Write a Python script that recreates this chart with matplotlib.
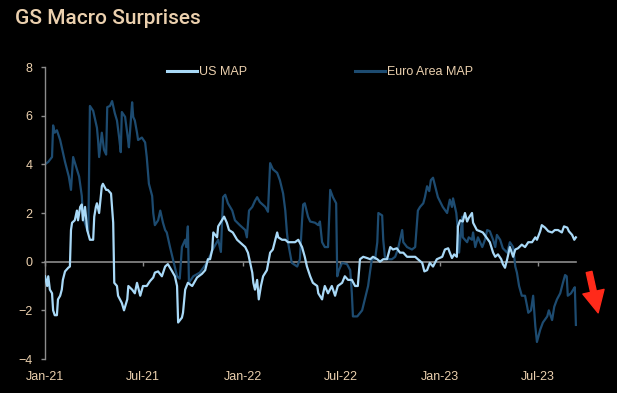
import numpy as np
import pandas as pd
import matplotlib
matplotlib.use("Agg")
import matplotlib.pyplot as plt
import matplotlib.dates as mdates

start_date = "2021-01-01"

euro_days = [0, 6, 13, 15, 18, 22, 28, 37, 44, 48, 52, 59, 63, 68, 70, 78, 80, 83, 89, 96,
             98, 100, 105, 109, 113, 115, 120, 124, 129, 133, 137, 140, 142, 148, 153, 155, 161, 163, 166, 170,
             172, 179, 185, 188, 192, 198, 200, 203, 209, 213, 218, 222, 225, 231, 237, 244, 249, 253, 259, 261,
             264, 266, 274, 286, 299, 310, 320, 325, 329, 333, 338, 346, 351, 360, 370, 373, 377, 383, 388, 392,
             397, 407, 412, 416, 421, 429, 434, 440, 444, 447, 449, 456, 466, 471, 475, 477, 480, 486, 490, 499,
             505, 508, 512, 517, 523, 527, 532, 538, 540, 543, 549, 558, 564, 567, 569, 577, 586, 591, 597, 601,
             604, 610, 614, 616, 623, 625, 628, 634, 641, 647, 652, 660, 662, 669, 678, 684, 689, 693, 699, 702,
             706, 710, 713, 717, 721, 726, 735, 743, 748, 752, 754, 760, 764, 765, 771, 772, 780, 783, 789, 791,
             795, 800, 808, 813, 817, 822, 828, 832, 835, 841, 846, 854, 859, 865, 869, 872, 876, 881, 887, 891,
             893, 898, 902, 906, 909, 915, 920, 928, 931, 937, 941, 946, 952, 957, 961, 964, 966, 972, 976, 979,
             981]
euro_vals = [4.0, 4.1, 4.3, 5.6, 5.3, 5.4, 5.0, 4.1, 3.5, 2.95, 4.3, 3.8, 3.5, 2.7, 1.85, 1.3, 1.2, 6.4, 6.2, 5.5,
             5.0, 4.3, 5.3, 4.6, 4.4, 6.35, 6.4, 6.6, 6.1, 5.8, 5.1, 4.5, 6.15, 5.95, 5.1, 4.7, 6.55, 5.95, 5.8, 5.3,
             5.0, 5.1, 4.9, 4.3, 3.2, 2.7, 2.0, 1.5, 1.7, 2.1, 1.6, 1.3, 1.2, 0.6, 0.05, -0.6, -0.7, 0.6, 0.9, 0.6,
             1.45, -0.87, -0.6, -0.45, -0.05, 0.5, 0.9, 0.4, 2.65, 2.75, 2.4, 2.1, 1.7, 1.5, 1.3, 1.0, 2.1, 2.25, 2.5, 2.65,
             2.45, 2.25, 2.05, 4.05, 3.8, 3.65, 3.35, 2.8, 2.1, 1.2, 0.8, -0.05, -0.2, 0.1, 1.7, 2.35, 2.4, 1.85, 1.65, 1.6,
             1.5, 1.65, 0.8, 0.6, 0.6, 2.95, 2.65, 2.4, -0.6, -0.35, -0.05, -0.1, -0.35, -1.3, -2.25, -2.25, -2.0, -1.55, -1.0, -0.35,
             0.1, 0.1, 0.8, 2.0, 1.9, 0.9, 0.2, 0.1, 0.1, 0.2, 0.5, 1.3, 0.8, 0.6, 0.5, 0.6, 2.1, 2.25, 2.4, 2.65,
             3.1, 2.9, 3.35, 3.45, 3.1, 2.65, 2.25, 2.0, 2.55, 2.25, 2.6, 2.0, 1.0, 0.37, 1.85, 1.0, 0.8, 1.0, 0.9, 1.2,
             0.6, 1.0, 0.6, 0.9, 1.3, 1.25, 0.9, 0.6, 1.1, 0.9, 0.55, 0.37, 0.8, 0.6, -0.2, -0.45, -1.0, -1.4, -1.4, -1.85,
             -2.1, -2.0, -1.4, -2.65, -3.3, -2.8, -2.5, -2.25, -2.0, -2.4, -1.85, -1.55, -1.3, -0.87, -0.55, -0.6, -1.4, -1.3, -1.15, -1.05,
             -2.6]

us_days = [0, 4, 6, 9, 13, 15, 18, 22, 24, 28, 31, 33, 37, 43, 46, 48, 50, 55, 59, 61,
           65, 68, 70, 74, 78, 83, 89, 91, 94, 96, 100, 105, 107, 113, 116, 122, 126, 128, 133, 135,
           142, 146, 152, 154, 161, 166, 170, 176, 181, 188, 194, 200, 203, 209, 216, 222, 227, 235, 240, 244,
           246, 253, 255, 259, 264, 272, 281, 290, 296, 301, 305, 309, 311, 318, 320, 327, 331, 336, 340, 347,
           355, 360, 370, 375, 383, 385, 388, 392, 395, 399, 403, 410, 416, 421, 429, 431, 438, 444, 449, 456,
           462, 468, 475, 480, 484, 490, 495, 503, 505, 512, 514, 517, 523, 530, 536, 541, 549, 554, 560, 567,
           573, 578, 582, 588, 595, 601, 606, 614, 619, 625, 632, 638, 643, 650, 656, 662, 669, 678, 684, 689,
           697, 701, 706, 711, 717, 724, 734, 739, 745, 748, 752, 756, 761, 763, 767, 772, 776, 780, 783, 789,
           791, 798, 804, 809, 817, 822, 828, 832, 837, 843, 846, 850, 854, 859, 865, 869, 874, 881, 887, 893,
           900, 906, 909, 915, 918, 924, 930, 937, 942, 948, 955, 959, 965, 968, 974, 978, 981]
us_vals = [-0.6, -1.0, -0.6, -1.15, -1.3, -2.0, -2.2, -2.2, -1.55, -1.4, -1.15, -0.75, -0.4, -0.25, -0.2, 1.3, 1.6, 1.7, 2.1, 1.7,
           2.25, 2.35, 1.7, 2.25, 1.3, 0.9, 0.9, 1.85, 2.25, 2.4, 2.0, 3.1, 3.2, 2.95, 2.95, 2.8, 1.6, -0.87, -1.0, -1.4,
           -1.7, -2.0, -1.55, -1.0, -1.15, -1.3, -0.87, -1.4, -1.0, -1.0, -0.8, -0.65, -0.45, -0.4, -0.6, -0.2, -0.1, -0.4, -0.6, -1.0,
           -2.5, -2.3, -2.1, -1.15, -0.87, -1.0, -0.65, -0.5, -0.35, 0.1, 0.1, 0.5, 1.2, 1.0, 1.45, 1.7, 1.85, 1.6, 1.3, 1.2,
           0.9, 0.8, 0.6, 0.37, -0.45, -0.87, -1.15, -0.75, -1.55, -1.0, -0.6, -0.35, 0.37, 0.5, 1.2, 1.0, 0.9, 0.9, 0.8, 0.8,
           0.8, 0.9, 0.6, 0.2, -0.2, -0.6, -0.87, -1.0, -1.3, -1.55, -1.3, -1.0, -1.3, -1.0, -1.4, -1.0, -0.87, -0.6, -0.75, -0.75,
           -1.0, -1.0, 0.1, 0.2, 0.15, 0.1, 0.2, 0.1, 0.0, 0.1, 0.1, 0.6, 0.5, 0.55, 0.37, 0.37, 0.2, 0.2, 0.2, 0.1,
           -0.05, -0.4, -0.35, -0.05, -0.2, 0.1, 0.2, 0.5, 0.55, 0.37, 0.15, 0.3, 0.2, 1.45, 1.7, 1.65, 2.0, 1.65, 1.8, 2.0,
           1.6, 1.3, 1.25, 1.2, 0.95, 0.8, 0.37, 0.2, 0.3, 0.1, -0.1, -0.25, 0.1, 0.6, 0.2, 0.5, 0.55, 0.7, 0.6, 0.8,
           0.8, 1.0, 0.9, 1.25, 1.5, 1.4, 1.25, 1.2, 1.3, 1.3, 1.2, 1.45, 1.4, 1.25, 1.1, 0.9, 1.0]

series_labels = ["US MAP", "Euro Area MAP"]
title_text = "GS Macro Surprises"
y_ticks = [-4, -2, 0, 2, 4, 6, 8]

t0 = pd.Timestamp(start_date)
euro_dates = t0 + pd.to_timedelta(euro_days, unit="D")
us_dates = t0 + pd.to_timedelta(us_days, unit="D")

BG = "#000000"
TXT = "#ebd0ae"
GRAY = "#8c8c8c"
US_C = "#a9d9f7"
EU_C = "#1d4b70"

plt.rcParams["font.family"] = ["Liberation Sans", "DejaVu Sans"]

fig = plt.figure(figsize=(6.17, 3.93), dpi=100, facecolor=BG)
ax = fig.add_axes([45 / 617, 1 - 359 / 393, 565 / 617, 292 / 393], facecolor=BG)

ax.plot(euro_dates, euro_vals, color=EU_C, lw=1.6, label=series_labels[1], zorder=2)
ax.plot(us_dates, us_vals, color=US_C, lw=1.6, label=series_labels[0], zorder=3)

ax.set_ylim(-4, 8)
ax.set_xlim(t0, t0 + pd.Timedelta(days=1044))
ax.set_yticks(y_ticks)

for s in ["top", "right"]:
    ax.spines[s].set_visible(False)
ax.spines["left"].set_color(GRAY)
ax.spines["left"].set_linewidth(1.0)
ax.spines["bottom"].set_position(("data", 0))
ax.spines["bottom"].set_color(GRAY)
ax.spines["bottom"].set_linewidth(1.2)
ax.spines["bottom"].set_bounds(mdates.date2num(t0), mdates.date2num(us_dates[-1]))
ax.spines["bottom"].set_zorder(1)

loc = mdates.MonthLocator(bymonth=[1, 7])
fmt = mdates.DateFormatter("%b-%y")
ax.xaxis.set_major_locator(loc)
ax.xaxis.set_major_formatter(fmt)
ax.tick_params(axis="x", which="major", direction="out", length=3, width=1, color=GRAY,
               labelbottom=False)
ax.tick_params(axis="y", direction="out", length=3, width=1, color=GRAY, labelcolor=TXT,
               labelsize=9, pad=6)

sec = ax.secondary_xaxis("bottom")
sec.xaxis.set_major_locator(mdates.MonthLocator(bymonth=[1, 7]))
sec.xaxis.set_major_formatter(mdates.DateFormatter("%b-%y"))
sec.spines["bottom"].set_visible(False)
sec.tick_params(axis="x", length=0, labelcolor=TXT, labelsize=9, pad=9)

h, l = ax.get_legend_handles_labels()
order = [l.index(series_labels[0]), l.index(series_labels[1])]
leg = ax.legend([h[i] for i in order], [l[i] for i in order], loc="center",
                bbox_to_anchor=(0.487, 0.983), ncol=2, frameon=False, fontsize=9,
                handlelength=2.4, handletextpad=0.15, columnspacing=8.6, labelcolor=TXT)
for line in leg.get_lines():
    line.set_linewidth(2.2)

fig.text(15 / 617, 1 - 24 / 393, title_text, color=TXT, fontsize=15, family="Roboto",
         weight="medium", ha="left", va="baseline")

ax.annotate("", xy=(0.979, 0.158), xytext=(0.963, 0.298), xycoords="axes fraction",
            textcoords="axes fraction",
            arrowprops=dict(arrowstyle="simple,head_length=1.3,head_width=1.3,tail_width=0.35",
                            color="#ff2a1a", mutation_scale=12, shrinkA=0, shrinkB=0))

fig.savefig("out.png", dpi=100, facecolor=BG)
